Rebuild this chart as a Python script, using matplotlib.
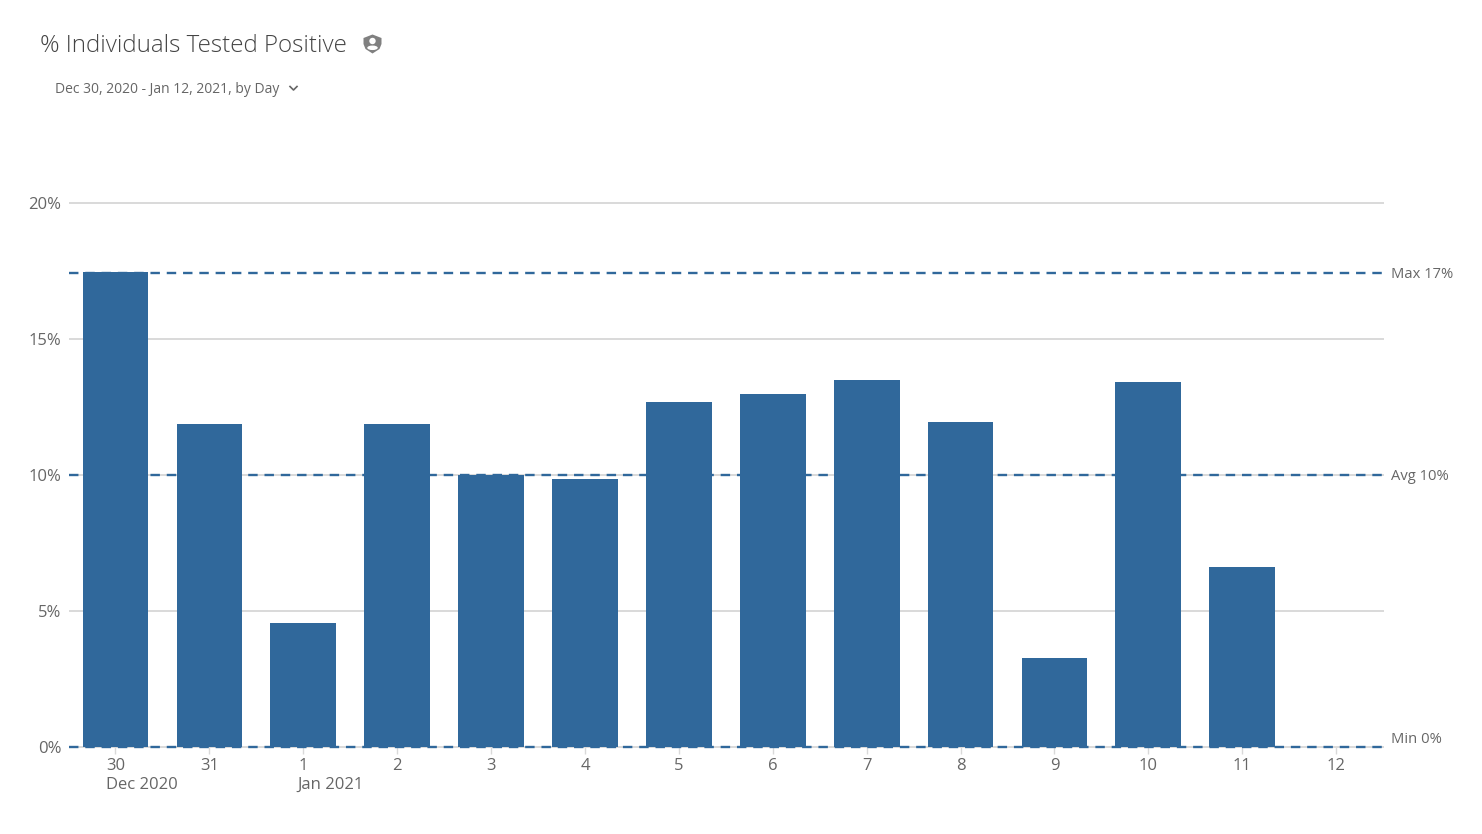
#!/usr/bin/env python3
"""% Individuals Tested Positive, daily bars with max/avg/min reference lines."""

import matplotlib
matplotlib.use("Agg")
import matplotlib.pyplot as plt
from matplotlib.patches import Circle, Ellipse, Polygon

W, H = 1482, 834

days = ["30", "31", "1", "2", "3", "4", "5", "6", "7", "8", "9", "10", "11", "12"]
positive_pct = [17.44, 11.86, 4.54, 11.86, 10.0, 9.85, 12.67, 12.96, 13.47, 11.93, 3.27, 13.4, 6.6, 0]
y_ticks = [0, 5, 10, 15, 20]
ref_values = [17.41, 10.0, 0]
ref_labels = ["Max 17%", "Avg 10%", "Min 0%"]
ref_label_values = [17.41, 10.0, 0.32]

BLUE = "#30689b"
GRID = "#d9d9d9"
TEXT = "#666666"

plt.rcParams["font.family"] = ["Open Sans", "DejaVu Sans"]

fig = plt.figure(figsize=(W / 100, H / 100), dpi=100, facecolor="white")
ax = fig.add_axes([69 / W, 1 - 746.8 / H, (1384 - 69) / W, (746.8 - 202.8) / H])

x = range(len(days))
ax.set_xlim(-0.495, 13.51)
ax.set_ylim(0, 20)

for y in y_ticks:
    ax.axhline(y, color=GRID, lw=1.4, zorder=1, clip_on=False, solid_capstyle="butt")
for y in ref_values:
    ax.axhline(y, color=BLUE, lw=1.7, dashes=(4.0, 2.9), zorder=2, clip_on=False,
               dash_capstyle="butt")

ax.bar(x, positive_pct, width=0.70, color=BLUE, zorder=3)

for s in ax.spines.values():
    s.set_visible(False)
ax.set_xticks(list(x))
ax.set_xticklabels(days, fontsize=12, color=TEXT)
ax.set_yticks(y_ticks)
ax.set_yticklabels([f"{v}%" for v in y_ticks], fontsize=12, color=TEXT)
ax.tick_params(axis="x", length=5, width=1, color=GRID, pad=3)
ax.tick_params(axis="y", length=0, pad=5.5)

trans = ax.get_xaxis_transform()
ax.text(-0.105, -0.0695, "Dec 2020", transform=trans, ha="left", va="center",
        fontsize=12, color=TEXT, clip_on=False)
ax.text(1.94, -0.0695, "Jan 2021", transform=trans, ha="left", va="center",
        fontsize=12, color=TEXT, clip_on=False)

for lab, y in zip(ref_labels, ref_label_values):
    ax.annotate(lab, xy=(1, y), xycoords=("axes fraction", "data"),
                xytext=(5, -1.2), textcoords="offset points", ha="left", va="center",
                fontsize=10.6, color=TEXT, annotation_clip=False)

# header drawn in pixel coordinates
over = fig.add_axes([0, 0, 1, 1], facecolor="none")
over.set_xlim(0, W)
over.set_ylim(H, 0)
over.axis("off")

over.text(40, 45.5, "% Individuals Tested Positive", fontsize=17.4, fontweight=300,
          color="#444444", ha="left", va="center")
over.text(55, 89.5, "Dec 30, 2020 - Jan 12, 2021, by Day", fontsize=10,
          color=TEXT, ha="left", va="center")
over.plot([290, 293.5, 297], [86.5, 90, 86.5], color=TEXT, lw=1.2)

# shield icon with person
over.add_patch(Polygon([(372.5, 34.5), (381.5, 38), (381.5, 44), (379.5, 49),
                        (372.5, 53.5), (365.5, 49), (363.5, 44), (363.5, 38)],
                       closed=True, color="#808080", lw=0, joinstyle="round"))
over.add_patch(Circle((372.5, 41), 3.2, color="white", lw=0))
over.add_patch(Ellipse((372.5, 47.8), 10.5, 4.5, color="white", lw=0))

fig.savefig("out.png", dpi=100, facecolor="white")
